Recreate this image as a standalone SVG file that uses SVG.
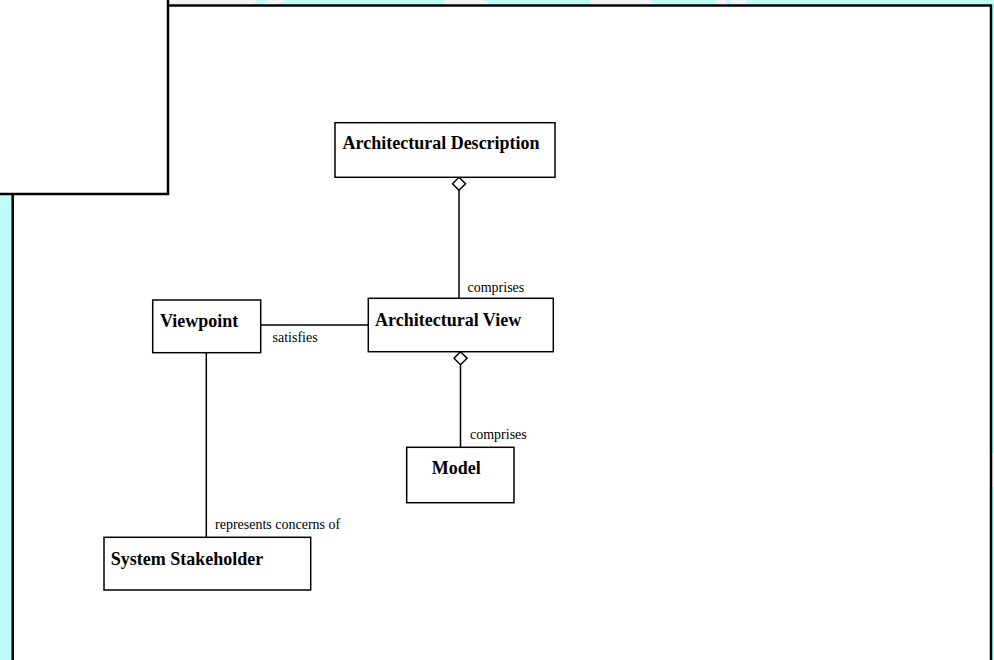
<svg xmlns="http://www.w3.org/2000/svg" width="994" height="660" viewBox="0 0 994 660">
<style>
.box{fill:#fff;stroke:#000;stroke-width:1.5}
.conn{stroke:#000;stroke-width:1.5;fill:none}
.title{font-family:"Liberation Serif",serif;font-weight:bold;font-size:18px;fill:#000}
.lbl{font-family:"Liberation Serif",serif;font-size:14px;fill:#000}
.frame{stroke:#000;stroke-width:2.5;fill:none}
</style>
<defs>
<marker id="agg" viewBox="-1 -8 16 16" refX="0" refY="0" markerWidth="16" markerHeight="16" markerUnits="userSpaceOnUse" orient="auto">
<polygon points="0,0 6.5,-6.5 13,0 6.5,6.5" fill="#fff" stroke="#000" stroke-width="1.5"/>
</marker>
</defs>
<g id="background">
<rect x="0" y="0" width="994" height="660" fill="#c0fcf7"/>
<polygon points="160,0 258,0 252,5 160,5" fill="#f4f4f4"/>
<polygon points="268,0 285,0 275,5 262,5" fill="#f4f4f4"/>
<polygon points="443,0 485,0 490,5 447,5" fill="#f4f4f4"/>
<polygon points="590,0 650,0 655,5 592,5" fill="#f4f4f4"/>
<polygon points="715,0 725,0 728,5 718,5" fill="#f4f4f4"/>
<polygon points="730,0 745,0 748,5 733,5" fill="#f4f4f4"/>
<rect x="992" y="453" width="2" height="34" fill="#f4f4f4"/>
</g>
<g id="main-panel">
<rect x="12" y="5" width="979" height="660" fill="#fff"/>
<path class="frame" d="M12.7,660 V195 M168,5.5 H991 V660"/>
</g>
<g id="corner-panel">
<rect x="0" y="0" width="168" height="193" fill="#fff"/>
<path class="frame" d="M168,0 V194 H0"/>
</g>
<g id="connectors">
<line class="conn" x1="459" y1="177.3" x2="459" y2="298.3" marker-start="url(#agg)"/>
<line class="conn" x1="460.5" y1="351.7" x2="460.5" y2="447.3" marker-start="url(#agg)"/>
<line class="conn" x1="260.7" y1="325" x2="368.3" y2="325"/>
<line class="conn" x1="206.3" y1="352.7" x2="206.3" y2="537.3"/>
<text class="lbl" x="467.5" y="291.5">comprises</text>
<text class="lbl" x="470" y="439">comprises</text>
<text class="lbl" x="272.5" y="342">satisfies</text>
<text class="lbl" x="215" y="529">represents concerns of</text>
</g>
<g id="architectural-description">
<rect class="box" x="335" y="122.7" width="220" height="54.6"/>
<text class="title" x="342.5" y="149">Architectural Description</text>
</g>
<g id="architectural-view">
<rect class="box" x="368.3" y="298.3" width="185" height="53.4"/>
<text class="title" x="375" y="325.5">Architectural View</text>
</g>
<g id="viewpoint">
<rect class="box" x="152.7" y="300" width="108" height="52.7"/>
<text class="title" x="160" y="327">Viewpoint</text>
</g>
<g id="model">
<rect class="box" x="406.7" y="447.3" width="107.3" height="55.4"/>
<text class="title" x="431.7" y="473.5">Model</text>
</g>
<g id="system-stakeholder">
<rect class="box" x="104" y="537.3" width="206.7" height="52.7"/>
<text class="title" x="110.7" y="564.5">System Stakeholder</text>
</g>
</svg>
